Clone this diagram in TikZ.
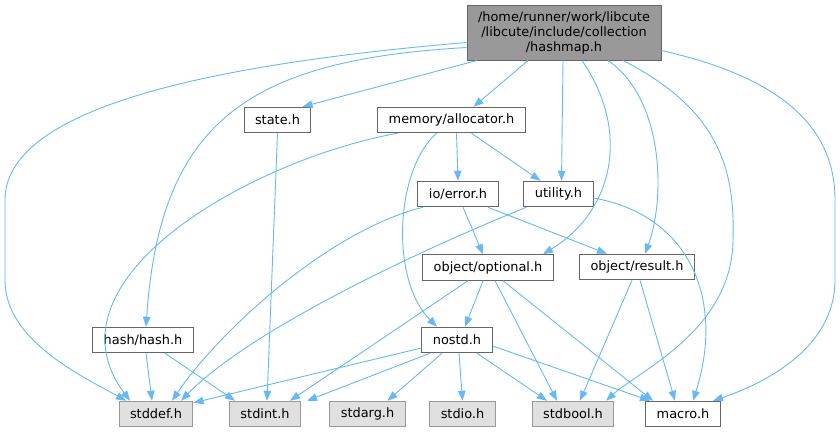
\documentclass[tikz,border=0pt]{standalone}
\usepackage{fontspec}
\setmainfont{DejaVu Sans}
\usepackage{xcolor}
\usepackage{tikz}
\usetikzlibrary{arrows.meta}
\usetikzlibrary{positioning}

\definecolor{edgeblue}{HTML}{63B8FF}
\definecolor{boxgray}{HTML}{666666}
\definecolor{sysgray}{HTML}{999999}
\definecolor{sysfill}{HTML}{E0E0E0}
\definecolor{mainfill}{HTML}{999999}

\begin{document}
\begin{tikzpicture}[x=1pt,y=-1pt,
    hdr/.style={draw=boxgray,fill=white,line width=1pt,minimum height=25.5pt,
      inner xsep=11pt,inner ysep=2pt,font=\fontsize{12.9}{15}\selectfont},
    sys/.style={hdr,draw=sysgray,fill=sysfill},
    dep/.style={draw=edgeblue,line width=0.9pt,-{Triangle[length=10pt,width=7.5pt]}}]
      \useasboundingbox (0,0) rectangle (840,432);

      \node[hdr,fill=mainfill,align=center,minimum width=194pt,minimum height=55pt,inner ysep=1pt] (hashmap) at (564,32.5)
        {/home/runner/work/libcute\\/libcute/include/collection\\/hashmap.h};

      \node[hdr] (state) at (277.5,120) {state.h};
      \node[hdr] (alloc) at (451.5,120) {memory/allocator.h};
      \node[hdr] (error) at (458,194) {io/error.h};
      \node[hdr] (util) at (558.5,194) {utility.h};
      \node[hdr] (optional) at (488,267.5) {object/optional.h};
      \node[hdr] (result) at (637,267) {object/result.h};
      \node[hdr] (hash) at (143,340) {hash/hash.h};
      \node[hdr] (nostd) at (457,340) {nostd.h};

      \node[sys] (stddef) at (156,414) {stddef.h};
      \node[sys] (stdint) at (265,414) {stdint.h};
      \node[sys] (stdarg) at (367.5,414) {stdarg.h};
      \node[sys] (stdio) at (462.5,414) {stdio.h};
      \node[sys] (stdbool) at (573,414) {stdbool.h};
      \node[hdr] (macro) at (683,414) {macro.h};

      % hashmap.h
      \draw[dep] ([yshift=-10pt]hashmap.west) .. controls (200,65) and (5,110) .. (5,200)
        -- (5,280) .. controls (5,340) and (80,375) .. ([xshift=-30pt]stddef.north);
      \draw[dep] ([yshift=-15pt]hashmap.west) .. controls (250,60) and (160,120) .. ([xshift=3pt]hash.north);
      \draw[dep] ([xshift=-87pt]hashmap.south) to ([xshift=25pt]state.north);
      \draw[dep] ([xshift=-36pt]hashmap.south) to ([xshift=22pt]alloc.north);
      \draw[dep] ([xshift=-1pt]hashmap.south) to ([xshift=3pt]util.north);
      \draw[dep] ([xshift=18pt]hashmap.south) .. controls (630,130) and (615,210) .. ([xshift=55pt]optional.north);
      \draw[dep] ([xshift=44pt]hashmap.south) .. controls (665,100) and (665,200) .. ([xshift=8pt]result.north);
      \draw[dep] ([xshift=59pt]hashmap.south) .. controls (720,110) and (735,170) .. (733,240)
        .. controls (732,330) and (640,370) .. ([xshift=33pt]stdbool.north);
      \draw[dep] ([yshift=-18pt]hashmap.east) .. controls (770,75) and (835,120) .. (835,200)
        -- (835,280) .. controls (835,350) and (760,385) .. ([xshift=30pt]macro.north);

      % memory/allocator.h
      \draw[dep] ([xshift=-54pt]alloc.south) .. controls (250,160) and (40,280) .. ([xshift=-26pt]stddef.north);
      \draw[dep] ([xshift=-15pt]alloc.south) .. controls (395,170) and (390,280) .. ([xshift=-20pt]nostd.north);
      \draw[dep] ([xshift=5pt]alloc.south) to (error.north);
      \draw[dep] ([xshift=20pt]alloc.south) to ([xshift=-18pt]util.north);

      \draw[dep] (state.south) to ([xshift=2pt]stdint.north);

      % io/error.h
      \draw[dep] ([xshift=-35pt]error.south) .. controls (330,230) and (220,330) .. ([xshift=16pt]stddef.north);
      \draw[dep] ([xshift=5pt]error.south) to ([xshift=-5pt]optional.north);
      \draw[dep] ([xshift=30pt]error.south) to ([xshift=-30pt]result.north);

      % utility.h
      \draw[dep] ([xshift=-32pt]util.south) .. controls (420,250) and (250,330) .. ([xshift=25pt]stddef.north);
      \draw[dep] ([yshift=-4pt]util.east) .. controls (690,215) and (725,300) .. ([xshift=10pt]macro.north);

      % object/optional.h
      \draw[dep] ([xshift=-20pt]optional.south) to ([xshift=25pt]stdint.north);
      \draw[dep] ([xshift=-5pt]optional.south) to ([xshift=8pt]nostd.north);
      \draw[dep] ([xshift=7pt]optional.south) to ([xshift=-16pt]stdbool.north);
      \draw[dep] ([xshift=15pt]optional.south) to ([xshift=-30pt]macro.north);

      % object/result.h
      \draw[dep] ([xshift=-5pt]result.south) to ([xshift=7pt]stdbool.north);
      \draw[dep] ([xshift=3pt]result.south) to ([xshift=-8pt]macro.north);

      % hash/hash.h
      \draw[dep] ([xshift=3pt]hash.south) to ([xshift=-4pt]stddef.north);
      \draw[dep] ([xshift=22pt]hash.south) to ([xshift=-30pt]stdint.north);

      % nostd.h
      \draw[dep] ([yshift=-8pt]nostd.west) to ([yshift=-2pt]stddef.north east);
      \draw[dep] ([xshift=-27pt]nostd.south) to ([xshift=42pt]stdint.north);
      \draw[dep] ([xshift=-15pt]nostd.south) to ([xshift=20pt]stdarg.north);
      \draw[dep] ([xshift=2pt]nostd.south) to (stdio.north);
      \draw[dep] ([xshift=20pt]nostd.south) to ([xshift=-26pt]stdbool.north);
      \draw[dep] ([yshift=-6pt]nostd.east) to ([xshift=-33pt]macro.north);
    \end{tikzpicture}
\end{document}
